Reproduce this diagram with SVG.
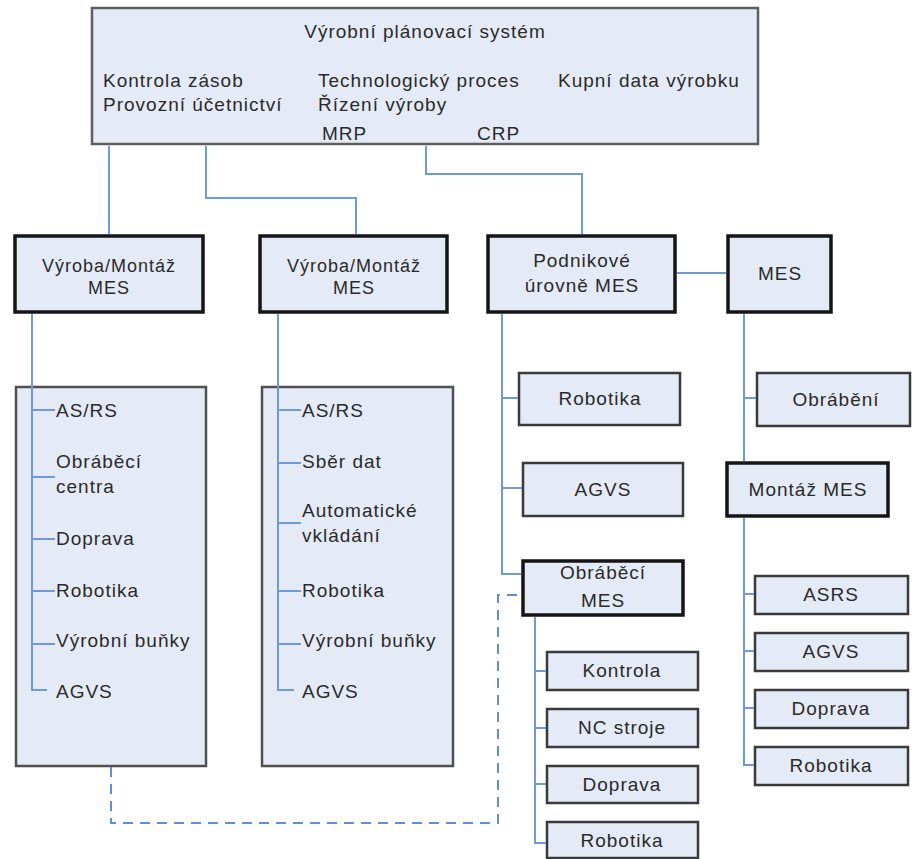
<svg xmlns="http://www.w3.org/2000/svg" width="912" height="859" viewBox="0 0 912 859">
<style>
text{font-family:"Liberation Sans",Arial,sans-serif;font-size:19px;fill:#2a2a2a;letter-spacing:1px}
.m{text-anchor:middle}
.s{font-size:18px}
.fill{fill:#e5ebf6}
.top{stroke:#5e5e5e;stroke-width:2.5}
.list{stroke:#505050;stroke-width:2.5}
.mes{stroke:#151515;stroke-width:3.5}
.leaf{stroke:#3a3a3a;stroke-width:2.5}
.c{fill:none;stroke:#6e9ad8;stroke-width:2}
.d{fill:none;stroke:#5f8fd2;stroke-width:2;stroke-dasharray:10 7}
</style>
<rect width="912" height="859" fill="#ffffff"/>
<g id="planning">
<rect class="fill top" x="92" y="8" width="666" height="136"/>
<text class="m" x="425" y="38">Výrobní plánovací systém</text>
<text x="103" y="87">Kontrola zásob</text>
<text x="103" y="111">Provozní účetnictví</text>
<text x="318" y="87">Technologický proces</text>
<text x="318" y="111">Řízení výroby</text>
<text x="322" y="140">MRP</text>
<text x="477" y="140">CRP</text>
<text x="558" y="87">Kupní data výrobku</text>
</g>
<g id="mes1">
<rect class="fill mes" x="15" y="236" width="188" height="76"/>
<text class="m s" x="109" y="272">Výroba/Montáž</text>
<text class="m s" x="109" y="294">MES</text>
</g>
<g id="mes2">
<rect class="fill mes" x="260" y="236" width="187" height="76"/>
<text class="m s" x="354" y="272">Výroba/Montáž</text>
<text class="m s" x="354" y="294">MES</text>
</g>
<g id="podnikove">
<rect class="fill mes" x="488" y="236" width="187" height="76"/>
<text class="m" x="582" y="267">Podnikové</text>
<text class="m" x="582" y="292">úrovně MES</text>
</g>
<g id="mes">
<rect class="fill mes" x="728" y="236" width="103" height="76"/>
<text class="m" x="780" y="280">MES</text>
</g>
<g id="list1">
<rect class="fill list" x="16" y="387" width="190" height="379"/>
<text x="56" y="417">AS/RS</text>
<text x="56" y="468">Obráběcí</text>
<text x="56" y="493">centra</text>
<text x="56" y="545">Doprava</text>
<text x="56" y="597">Robotika</text>
<text x="56" y="647">Výrobní buňky</text>
<text x="56" y="698">AGVS</text>
</g>
<g id="list2">
<rect class="fill list" x="262" y="387" width="191" height="379"/>
<text x="302" y="417">AS/RS</text>
<text x="302" y="468">Sběr dat</text>
<text x="302" y="517">Automatické</text>
<text x="302" y="542">vkládání</text>
<text x="302" y="597">Robotika</text>
<text x="302" y="647">Výrobní buňky</text>
<text x="302" y="698">AGVS</text>
</g>
<g id="robotika1">
<rect class="fill leaf" x="519" y="373" width="161" height="52"/>
<text class="m" x="600" y="405">Robotika</text>
</g>
<g id="agvs1">
<rect class="fill leaf" x="523" y="463" width="160" height="53"/>
<text class="m" x="603" y="496">AGVS</text>
</g>
<g id="obrabeci-mes">
<rect class="fill mes" x="523" y="561" width="160" height="54"/>
<text class="m" x="603" y="579">Obráběcí</text>
<text class="m" x="603" y="607">MES</text>
</g>
<g id="obrabeni">
<rect class="fill leaf" x="757" y="373" width="153" height="53"/>
<text class="m" x="836" y="406">Obrábění</text>
</g>
<g id="montaz-mes">
<rect class="fill mes" x="727" y="463" width="161" height="53"/>
<text class="m" x="808" y="496">Montáž MES</text>
</g>
<g id="asrs">
<rect class="fill leaf" x="755" y="576" width="153" height="38"/>
<text class="m" x="831" y="601">ASRS</text>
</g>
<g id="agvs2">
<rect class="fill leaf" x="755" y="633" width="153" height="38"/>
<text class="m" x="831" y="658">AGVS</text>
</g>
<g id="doprava2">
<rect class="fill leaf" x="755" y="690" width="153" height="38"/>
<text class="m" x="831" y="715">Doprava</text>
</g>
<g id="robotika3">
<rect class="fill leaf" x="755" y="747" width="153" height="38"/>
<text class="m" x="831" y="772">Robotika</text>
</g>
<g id="kontrola">
<rect class="fill leaf" x="547" y="652" width="151" height="38"/>
<text class="m" x="622" y="677">Kontrola</text>
</g>
<g id="nc-stroje">
<rect class="fill leaf" x="547" y="709" width="151" height="38"/>
<text class="m" x="622" y="734">NC stroje</text>
</g>
<g id="doprava3">
<rect class="fill leaf" x="547" y="766" width="151" height="37"/>
<text class="m" x="622" y="791">Doprava</text>
</g>
<g id="robotika4">
<rect class="fill leaf" x="547" y="822" width="151" height="36"/>
<text class="m" x="622" y="847">Robotika</text>
</g>
<g id="connectors">
<path class="c" d="M109,146V234"/>
<path class="c" d="M206,146V198H356V234"/>
<path class="c" d="M426,146V174H582V234"/>
<path class="c" d="M677,273H726"/>
<path class="c" d="M32,314V690H47M32,410H55M32,477H55M32,539H55M32,591H55M32,644H55"/>
<path class="c" d="M278,314V690H294M278,410H301M278,463H301M278,523H301M278,591H301M278,644H301"/>
<path class="c" d="M502,314V574H521M502,398H518M502,488H522"/>
<path class="c" d="M744,314V461M744,398H756"/>
<path class="c" d="M744,518V765H754M744,594H754M744,651H754M744,708H754"/>
<path class="c" d="M535,617V843H546M535,671H546M535,728H546M535,784H546"/>
<path class="d" d="M111,767V823H498V595H521"/>
</g>
</svg>
